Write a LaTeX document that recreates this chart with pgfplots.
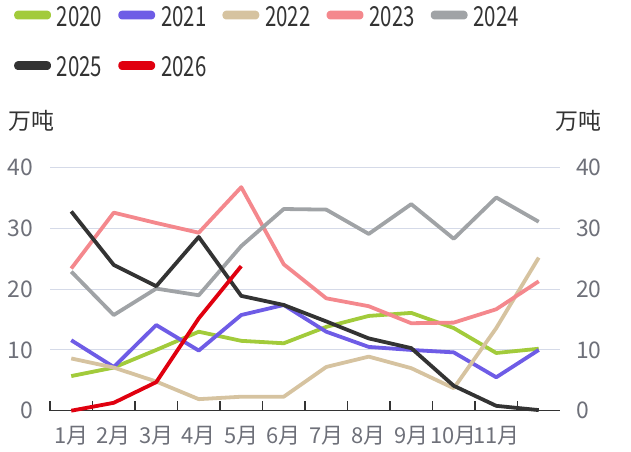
\documentclass[border=0pt]{standalone}
\usepackage{fontspec}
\setmainfont{Noto Sans CJK SC}
\usepackage{pgfplots}
\pgfplotsset{compat=1.18}
\definecolor{c20}{HTML}{A2CB3B}
\definecolor{c21}{HTML}{6E5CE6}
\definecolor{c22}{HTML}{D6C3A0}
\definecolor{c23}{HTML}{F4888D}
\definecolor{c24}{HTML}{A0A3A6}
\definecolor{c25}{HTML}{333333}
\definecolor{c26}{HTML}{E0000F}
\definecolor{gridc}{HTML}{D5DAE8}
\definecolor{lab}{HTML}{6E7079}
\definecolor{txt}{HTML}{333333}
\newcommand\lt[1]{\scalebox{1}[1.35]{#1}}
\begin{document}
\begin{tikzpicture}
\useasboundingbox (0,0) rectangle (631bp,452bp);
\begin{axis}[
  at={(50bp,41.3bp)}, anchor=south west,
  scale only axis, width=510bp, height=243bp,
  xmin=0.5, xmax=12.5, ymin=0, ymax=40,
  clip=false,
  axis x line*=bottom, axis y line*=left,
  y axis line style={draw=none},
  x axis line style={color=txt, line width=1.5bp, -},
  tick align=inside,
  xtick={1,...,11},
  xticklabels={1月,2月,3月,4月,5月,6月,7月,8月,9月,10月,11月},
  minor xtick={0.5,1.5,...,11.5},
  major tick length=0pt, minor tick length=10bp,
  minor tick style={color=txt, line width=1.5bp},
  ytick={0,10,20,30,40},
  ytick style={draw=none},
  ymajorgrids, major grid style={gridc, line width=1bp},
  /pgf/number format/assume math mode=true,
  yticklabel style={font=\fontsize{23}{23}\selectfont, text=lab, anchor=east, inner sep=0pt, xshift=-17bp},
  xticklabel style={font=\fontsize{22}{22}\selectfont, text=lab, anchor=north, inner sep=0pt, yshift=-15bp},
  legend columns=5,
  legend cell align=left,
  legend style={at={(-0.0706,1.665)}, anchor=north west, draw=none, fill=none, inner sep=0pt, row sep=29bp,
    nodes={inner sep=0pt, text=txt, font=\fontsize{20.5}{20.5}\selectfont},
    /tikz/every odd column/.append style={column sep=6bp},
    /tikz/every even column/.append style={column sep=16bp}},
  legend image code/.code={\fill[rounded corners=2bp] (0bp,-0.5bp) rectangle (33bp,4.5bp);},
  every axis plot/.append style={line width=3.8bp, line join=round},
]
\addplot[color=c20] coordinates {(1,5.7)(2,7.1)(3,10.0)(4,13.0)(5,11.5)(6,11.1)(7,13.8)(8,15.6)(9,16.1)(10,13.6)(11,9.5)(12,10.2)};
\addlegendentry{\lt{2020}}
\addplot[color=c21] coordinates {(1,11.6)(2,7.2)(3,14.1)(4,9.9)(5,15.75)(6,17.4)(7,13.0)(8,10.5)(9,10.0)(10,9.6)(11,5.5)(12,10.0)};
\addlegendentry{\lt{2021}}
\addplot[color=c22] coordinates {(1,8.6)(2,7.1)(3,4.8)(4,1.9)(5,2.3)(6,2.3)(7,7.2)(8,8.9)(9,7.0)(10,3.7)(11,13.6)(12,25.2)};
\addlegendentry{\lt{2022}}
\addplot[color=c23] coordinates {(1,23.4)(2,32.6)(3,30.9)(4,29.3)(5,36.8)(6,24.1)(7,18.5)(8,17.2)(9,14.4)(10,14.5)(11,16.7)(12,21.3)};
\addlegendentry{\lt{2023}}
\addplot[color=c24] coordinates {(1,22.9)(2,15.75)(3,20.1)(4,19.0)(5,27.1)(6,33.2)(7,33.1)(8,29.1)(9,34.0)(10,28.3)(11,35.1)(12,31.1)};
\addlegendentry{\lt{2024}}
\addplot[color=c25] coordinates {(1,32.8)(2,24.0)(3,20.5)(4,28.6)(5,18.9)(6,17.4)(7,14.7)(8,11.9)(9,10.3)(10,4.1)(11,0.8)(12,0.1)};
\addlegendentry{\lt{2025}}
\addplot[color=c26] coordinates {(1,0.0)(2,1.3)(3,4.7)(4,15.2)(5,23.8)};
\addlegendentry{\lt{2026}}
\node[font=\fontsize{23}{23}\selectfont, text=txt] at (rel axis cs:-0.037,1.192) {万吨};
\node[font=\fontsize{23}{23}\selectfont, text=txt] at (rel axis cs:1.036,1.192) {万吨};
\end{axis}
\begin{axis}[
  at={(50bp,41.3bp)}, anchor=south west,
  scale only axis, width=510bp, height=243bp,
  xmin=0.5, xmax=12.5, ymin=0, ymax=40,
  hide x axis, axis y line*=right,
  y axis line style={draw=none},
  ytick={0,10,20,30,40}, ytick style={draw=none},
  /pgf/number format/assume math mode=true,
  yticklabel style={font=\fontsize{23}{23}\selectfont, text=lab, anchor=west, inner sep=0pt, xshift=16bp},
]
\addplot[draw=none] coordinates {(1,0)};
\end{axis}
\end{tikzpicture}
\end{document}
